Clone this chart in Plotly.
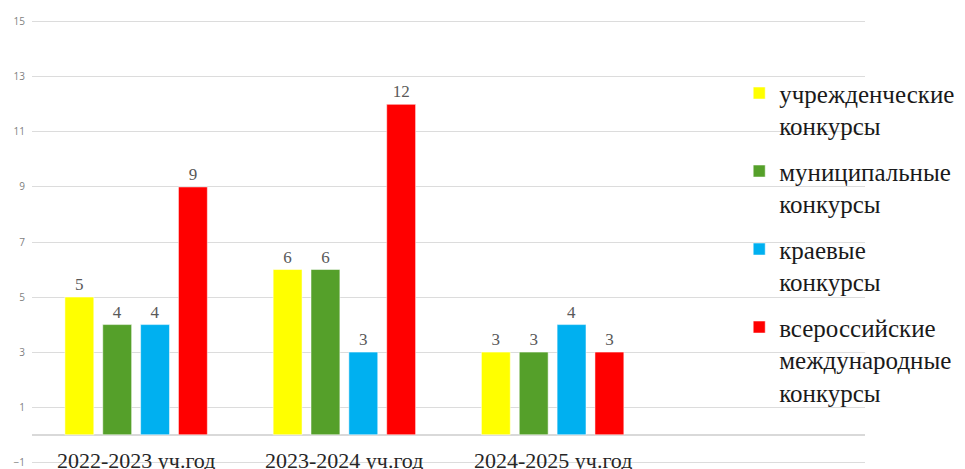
import plotly.graph_objects as go

categories = ["2022-2023 уч.год", "2023-2024 уч.год", "2024-2025 уч.год"]
series_names = ["учрежденческие<br>конкурсы", "муниципальные<br>конкурсы", "краевые<br>конкурсы",
                "всероссийские<br>международные<br>конкурсы"]
uchr = [5, 6, 3]
munic = [4, 6, 3]
kraev = [4, 3, 4]
vseros = [9, 12, 3]
colors = ["#FFFF00", "#55A02A", "#00B0F0", "#FF0000"]
ytick_vals = [-1, 1, 3, 5, 7, 9, 11, 13, 15]

xpos = list(range(len(categories)))
fig = go.Figure()
for i, (name, vals) in enumerate(zip(series_names, [uchr, munic, kraev, vseros])):
    fig.add_trace(go.Bar(
        x=xpos, y=vals, name=name, legendgroup=f"g{i}",
        marker=dict(color=colors[i], line=dict(color="rgba(255,255,255,0.5)", width=1)),
        text=vals, textposition="outside", cliponaxis=False,
        textfont=dict(family="Liberation Serif", size=17, color="#595959"),
    ))

for i, c in enumerate(categories):
    fig.add_annotation(x=i, y=-1, xref="x", yref="y", text=c, showarrow=False,
                       yanchor="middle", yshift=2,
                       font=dict(family="Liberation Serif", size=22, color="#262626"))

# page body has an 8px margin; figure sized/margined to compensate
fig.update_layout(
    width=957, height=461,
    margin=dict(l=24, r=100, t=11, b=4, autoexpand=False),
    paper_bgcolor="white", plot_bgcolor="white",
    barmode="group", bargap=0.273, bargroupgap=0.237,
    showlegend=True,
    legend=dict(x=0.849, y=0.885, xanchor="left", yanchor="top",
                bgcolor="rgba(0,0,0,0)", valign="top", tracegroupgap=10,
                font=dict(family="Liberation Serif", size=25, color="#1a1a1a")),
    xaxis=dict(range=[-0.5, 3.5], showticklabels=False, showgrid=False, zeroline=False,
               ticks="", automargin=False),
    yaxis=dict(range=[-1.1, 15.1], tickvals=ytick_vals, showgrid=True, gridcolor="#dcdcdc",
               gridwidth=1, zeroline=True, zerolinecolor="#d9d9d9", zerolinewidth=1.5,
               tickfont=dict(family="Open Sans", size=10, color="#7f7f7f"), ticks="",
               ticklabelstandoff=6, automargin=False),
)

fig.write_html("out.html")
